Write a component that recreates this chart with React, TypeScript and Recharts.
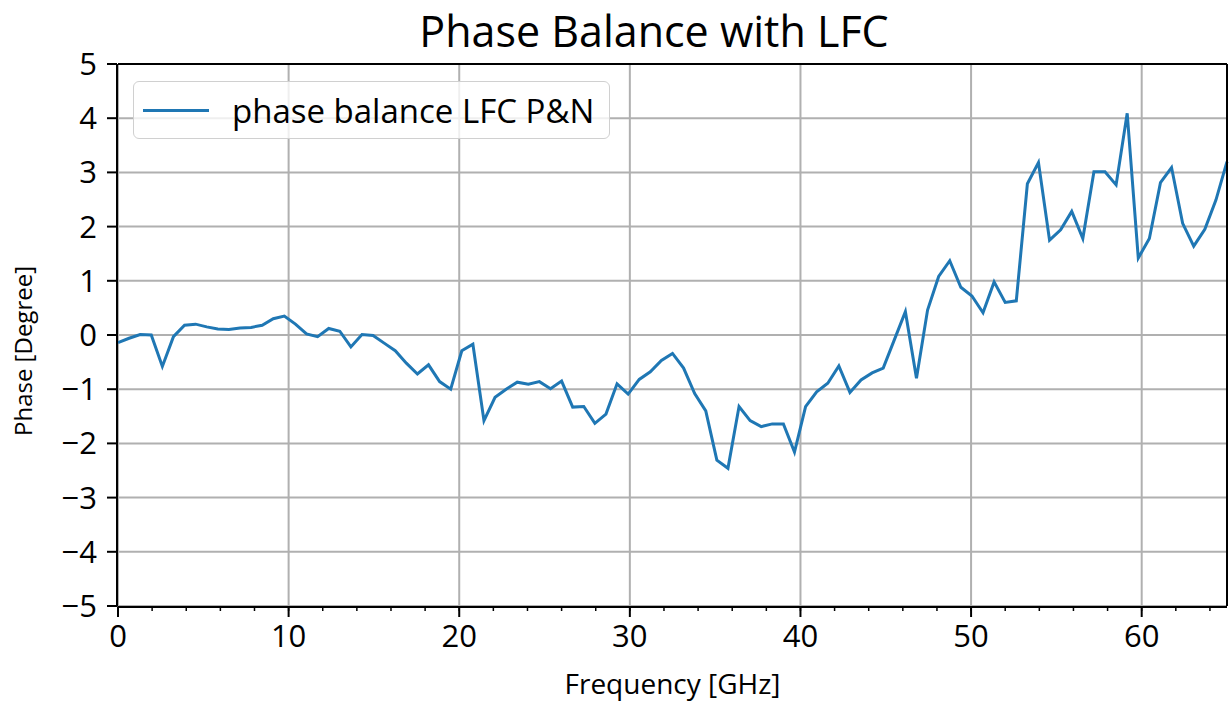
import React from 'react';
import { LineChart, Line, XAxis, YAxis, CartesianGrid } from 'recharts';

const seriesName = 'phase balance LFC P&N';

const frequencies = [
  0, 0.65, 1.3, 1.95, 2.6, 3.25, 3.9, 4.55, 5.2, 5.85, 6.5, 7.15, 7.8, 8.45, 9.1, 9.75,
  10.4, 11.05, 11.7, 12.35, 13, 13.65, 14.3, 14.95, 15.6, 16.25, 16.9, 17.55, 18.2, 18.85,
  19.5, 20.15, 20.8, 21.45, 22.1, 22.75, 23.4, 24.05, 24.7, 25.35, 26, 26.65, 27.3, 27.95,
  28.6, 29.25, 29.9, 30.55, 31.2, 31.85, 32.5, 33.15, 33.8, 34.45, 35.1, 35.75, 36.4, 37.05,
  37.7, 38.35, 39, 39.65, 40.3, 40.95, 41.6, 42.25, 42.9, 43.55, 44.2, 44.85, 45.5, 46.15,
  46.8, 47.45, 48.1, 48.75, 49.4, 50.05, 50.7, 51.35, 52, 52.65, 53.3, 53.95, 54.6, 55.25,
  55.9, 56.55, 57.2, 57.85, 58.5, 59.15, 59.8, 60.45, 61.1, 61.75, 62.4, 63.05, 63.7, 64.35, 65,
];

const phase = [
  -0.14, -0.06, 0.01, 0.0, -0.58, -0.03, 0.18, 0.2, 0.15, 0.11, 0.1, 0.13, 0.14, 0.18, 0.3, 0.35,
  0.2, 0.02, -0.03, 0.12, 0.07, -0.22, 0.01, -0.01, -0.15, -0.29, -0.52, -0.72, -0.55, -0.86,
  -1.0, -0.29, -0.17, -1.58, -1.15, -1.0, -0.87, -0.91, -0.86, -0.99, -0.85, -1.33, -1.32, -1.63,
  -1.46, -0.9, -1.09, -0.82, -0.68, -0.47, -0.34, -0.61, -1.08, -1.4, -2.31, -2.46, -1.32, -1.58,
  -1.69, -1.64, -1.64, -2.16, -1.32, -1.05, -0.89, -0.57, -1.06, -0.83, -0.7, -0.61, -0.09, 0.43,
  -0.8, 0.46, 1.08, 1.37, 0.88, 0.72, 0.41, 0.98, 0.6, 0.63, 2.79, 3.18, 1.75, 1.94,
  2.28, 1.78, 3.01, 3.01, 2.77, 4.09, 1.42, 1.78, 2.81, 3.09, 2.06, 1.64, 1.95, 2.49, 3.2,
];

const xTicks = [0, 10, 20, 30, 40, 50, 60];
const xMinorTicks = [0, 2, 4, 6, 8, 10, 12, 14, 16, 18, 20, 22, 24, 26, 28, 30, 32, 34, 36, 38, 40, 42, 44, 46, 48, 50, 52, 54, 56, 58, 60, 62, 64];
const yTicks = [-5, -4, -3, -2, -1, 0, 1, 2, 3, 4, 5];
const yMinorTicks = [
  -5, -4.8, -4.6, -4.4, -4.2, -4, -3.8, -3.6, -3.4, -3.2, -3, -2.8, -2.6, -2.4, -2.2, -2, -1.8, -1.6, -1.4, -1.2,
  -1, -0.8, -0.6, -0.4, -0.2, 0, 0.2, 0.4, 0.6, 0.8, 1, 1.2, 1.4, 1.6, 1.8, 2, 2.2, 2.4, 2.6, 2.8,
  3, 3.2, 3.4, 3.6, 3.8, 4, 4.2, 4.4, 4.6, 4.8, 5,
];

const data = frequencies.map((f, i) => ({ f, phase: phase[i] }));

const fmtMinus = (v: number) => (v < 0 ? '\u2212' + Math.abs(v) : String(v));
const blank = () => '';

const tickFont = { fontFamily: 'Open Sans', fontSize: 31, fill: '#000' };
const axisLine = { stroke: '#000', strokeWidth: 2 };
const labelStyle = { fontFamily: 'Open Sans', fill: '#000' };

// axis ids: 0 = minor ticks (sits against the plot), 1 = main axes, 2 = frame
const MINOR = 0;
const MAIN = 1;
const FRAME = 2;

// rotated y label, placed like matplotlib's (a bit left of the tick labels)
const YLabel = (props: any) => {
  const vb = props.viewBox || { x: 0, y: 64, width: 117, height: 542 };
  const cx = vb.x + 32;
  const cy = vb.y + vb.height / 2 + 16;
  return (
    <text x={cx} y={cy} transform={`rotate(-90, ${cx}, ${cy})`} textAnchor="middle" style={{ ...labelStyle, fontSize: 24 }}>
      Phase [Degree]
    </text>
  );
};

const XLabel = (props: any) => {
  const vb = props.viewBox || { x: 118, y: 607, width: 1109, height: 95 };
  return (
    <text x={vb.x + vb.width / 2} y={vb.y + vb.height - 8} textAnchor="middle" style={{ ...labelStyle, fontSize: 28 }}>
      Frequency [GHz]
    </text>
  );
};

export default function App() {
  return (
    <div style={{ position: 'relative', width: 1231, height: 702, background: '#fff' }}>
      <style>{'body{margin:0}'}</style>
      <div
        style={{
          position: 'absolute', left: 0, width: 1308, top: 2, textAlign: 'center',
          fontFamily: 'Open Sans', fontSize: 43, color: '#000', lineHeight: '58px',
        }}
      >
        Phase Balance with LFC
      </div>
      <LineChart width={1231} height={702} data={data} margin={{ top: 63, right: 3, bottom: 0, left: 0 }}>
        <CartesianGrid xAxisId={MAIN} yAxisId={MAIN} stroke="#b0b0b0" strokeWidth={2} horizontalValues={yTicks} verticalValues={xTicks} />
        <XAxis
          xAxisId={MINOR} type="number" dataKey="f" domain={[0, 65]} ticks={xMinorTicks}
          height={1} axisLine={false} tickSize={5} tickLine={{ stroke: '#000', strokeWidth: 1.5 }}
          tickFormatter={blank} interval={0}
        />
        <XAxis
          xAxisId={MAIN} type="number" dataKey="f" domain={[0, 65]} ticks={xTicks} interval={0}
          height={95} axisLine={axisLine} tickSize={10} tickLine={{ stroke: '#000', strokeWidth: 2 }}
          tick={tickFont} tickMargin={8}
          label={<XLabel />}
        />
        <XAxis xAxisId={FRAME} orientation="top" type="number" dataKey="f" domain={[0, 65]} height={1} tick={false} tickLine={false} axisLine={axisLine} />
        <YAxis
          yAxisId={MINOR} type="number" domain={[-5, 5]} ticks={yMinorTicks} interval={0}
          width={1} axisLine={false} tickSize={5} tickLine={{ stroke: '#000', strokeWidth: 1.5 }}
          tickFormatter={blank}
        />
        <YAxis
          yAxisId={MAIN} type="number" domain={[-5, 5]} ticks={yTicks} interval={0} width={117}
          axisLine={axisLine} tickSize={10} tickLine={{ stroke: '#000', strokeWidth: 2 }}
          tick={tickFont} tickMargin={10} tickFormatter={fmtMinus}
          label={<YLabel />}
        />
        <YAxis yAxisId={FRAME} orientation="right" type="number" domain={[-5, 5]} width={1} tick={false} tickLine={false} axisLine={axisLine} />
        <Line
          xAxisId={MAIN} yAxisId={MAIN}
          type="linear" dataKey="phase" name={seriesName} stroke="#1f77b4" strokeWidth={3}
          dot={false} activeDot={false} isAnimationActive={false}
        />
      </LineChart>
      <div
        style={{
          position: 'absolute', left: 133, top: 81, width: 477, height: 58,
          border: '1.5px solid #d0d0d0', borderRadius: 6, background: 'rgba(255,255,255,0.8)',
          display: 'flex', alignItems: 'center', boxSizing: 'border-box',
        }}
      >
        <div style={{ marginLeft: 9, width: 66, height: 3, background: '#1f77b4' }} />
        <div style={{ marginLeft: 23, fontFamily: 'Open Sans', fontSize: 33, color: '#000', whiteSpace: 'nowrap' }}>
          {seriesName}
        </div>
      </div>
    </div>
  );
}
